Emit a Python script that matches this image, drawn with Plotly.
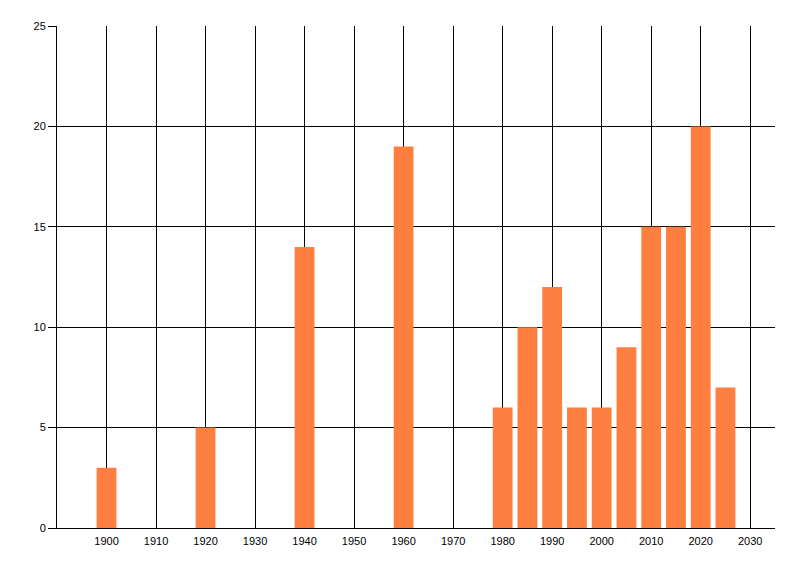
import plotly.graph_objects as go

# bar positions (years) and heights
years = [1900, 1920, 1940, 1960, 1980, 1985, 1990, 1995, 2000, 2005, 2010, 2015, 2020, 2025]
counts = [3, 5, 14, 19, 6, 10, 12, 6, 6, 9, 15, 15, 20, 7]

x_ticks = list(range(1900, 2031, 10))
y_ticks = [0, 5, 10, 15, 20, 25]

fig = go.Figure()
fig.add_trace(go.Bar(
    x=years,
    y=counts,
    width=4,
    marker=dict(color="#FF7F40", line=dict(width=0)),
    showlegend=False,
))

# page body has an 8px margin, so the figure is sized to fit inside it
fig.update_layout(
    width=784,
    height=560,
    margin=dict(l=49, r=17, t=18, b=40),
    plot_bgcolor="white",
    paper_bgcolor="white",
    font=dict(family="Liberation Sans, Arial, sans-serif", size=11, color="black"),
)
fig.update_xaxes(
    range=[1890, 2035],
    tickvals=x_ticks,
    showgrid=True,
    gridcolor="black",
    gridwidth=1,
    showline=True,
    linecolor="black",
    linewidth=1,
    ticks="",
    ticklabelstandoff=3,
    zeroline=False,
)
fig.update_yaxes(
    range=[0, 25],
    tickvals=y_ticks,
    showgrid=True,
    gridcolor="black",
    gridwidth=1,
    showline=True,
    linecolor="black",
    linewidth=1,
    ticks="outside",
    ticklen=8,
    tickcolor="black",
    zeroline=False,
)

fig.write_html("out.html")
